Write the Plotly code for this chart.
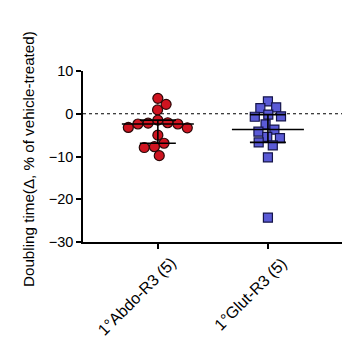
import numpy as np
import plotly.graph_objects as go

categories = ["1°Abdo-R3 (5)", "1°Glut-R3 (5)"]
abdo_values = [3.6, 2.2, 0.9, -1.5, -2.2, -2.4, -3.3, -3.2, -2.4, -2.1, -5.0, -6.9, -7.7, -7.9, -9.8]
glut_values = [2.9, 1.5, 1.3, -0.2, -0.7, -0.6, -2.5, -3.7, -4.2, -5.7, -5.4, -6.7, -7.4, -10.2, -24.3]
y_ticks = [-30, -20, -10, 0, 10]
p_text = "<i>p</i> = 0.007"

# layout geometry (pixels)
W, H = 354, 341
ML, MR, MT, MB = 83, 12, 71, 99
plot_w = W - ML - MR
plot_h = H - MT - MB
x_range = [-0.68, 1.673]
y_range = [-30, 10]
px_per_x = plot_w / (x_range[1] - x_range[0])
px_per_y = plot_h / (y_range[1] - y_range[0])


def swarm(values, diam):
    """Deterministic beeswarm offsets (in pixels)."""
    ys = np.array(values) * px_per_y
    order = np.argsort(-ys)
    placed = []
    offs = np.zeros(len(values))
    for i in order:
        y = ys[i]
        cands = [0.0]
        for (xj, yj) in placed:
            dy = abs(y - yj)
            if dy < diam:
                dx = np.sqrt(diam ** 2 - dy ** 2)
                cands += [xj + dx, xj - dx]
        cands = sorted(cands, key=lambda c: (abs(c), -c))
        for c in cands:
            ok = all((c - xj) ** 2 + (y - yj) ** 2 >= diam ** 2 - 1e-6 for xj, yj in placed)
            if ok:
                offs[i] = c
                placed.append((c, y))
                break
    return offs


fig = go.Figure()

groups = [
    (0, abdo_values, "circle", "#cf1420", "#2a0808", 10),
    (1, glut_values, "square", "#5a5ad6", "#14144a", 9),
]

for xi, vals, sym, fill, line, size in groups:
    offs = swarm(vals, 10.2) / px_per_x
    fig.add_trace(go.Scatter(
        x=xi + offs, y=vals, mode="markers",
        marker=dict(symbol=sym, size=size, color=fill, line=dict(color=line, width=1.2)),
        showlegend=False, hoverinfo="skip",
    ))
    q1, med, q3 = np.percentile(vals, [25, 50, 75], method="weibull")
    mw = 36 / px_per_x
    cw = 18 / px_per_x
    lstyle = dict(color="black", width=1.6)
    fig.add_shape(type="line", x0=xi - mw, x1=xi + mw, y0=med, y1=med, line=lstyle, layer="above")
    fig.add_shape(type="line", x0=xi, x1=xi, y0=q1, y1=q3, line=lstyle, layer="above")
    fig.add_shape(type="line", x0=xi - cw, x1=xi + cw, y0=q1, y1=q1, line=lstyle, layer="above")
    fig.add_shape(type="line", x0=xi - cw, x1=xi + cw, y0=q3, y1=q3, line=lstyle, layer="above")

# dotted zero line
fig.add_shape(type="line", xref="paper", x0=0, x1=1, y0=0, y1=0,
              line=dict(color="black", width=1.2, dash="dot"), layer="below")

font = "Arial, Liberation Sans, Helvetica, sans-serif"
FS = 14.5

fig.add_annotation(text=p_text, xref="x", yref="y", x=-0.07, y=12.2,
                   xanchor="center", yanchor="middle",
                   showarrow=False, font=dict(family=font, size=15.5, color="black"))
fig.add_annotation(text="Doubling time(Δ, % of vehicle-treated)", xref="paper", yref="paper",
                   x=(28 - ML) / plot_w, y=(MT + plot_h - 159) / plot_h, textangle=-90,
                   xanchor="center", yanchor="middle",
                   showarrow=False, font=dict(family=font, size=15.2, color="black"))

# rotated category labels
for i, cat in enumerate(categories):
    fig.add_annotation(text=cat, xref="x", yref="paper", x=i + 24 / px_per_x,
                       y=-(252 - MT - plot_h) / plot_h, xanchor="right", yanchor="top",
                       textangle=-45, showarrow=False,
                       font=dict(family=font, size=16, color="black"))

fig.update_layout(
    width=W, height=H,
    margin=dict(l=ML, r=MR, t=MT, b=MB),
    plot_bgcolor="white", paper_bgcolor="white",
    font=dict(family=font, size=FS, color="black"),
    xaxis=dict(range=x_range, tickvals=[0, 1], ticktext=["", ""],
               showline=True, linecolor="black", linewidth=1.6, ticks="outside",
               ticklen=5, tickwidth=1.6, tickcolor="black", showgrid=False, zeroline=False),
    yaxis=dict(range=y_range, tickvals=y_ticks, showline=True, linecolor="black",
               linewidth=1.6, ticks="outside", ticklen=5, tickwidth=1.6, tickcolor="black",
               showgrid=False, zeroline=False, tickfont=dict(size=FS)),
)

fig.write_html("out.html")
